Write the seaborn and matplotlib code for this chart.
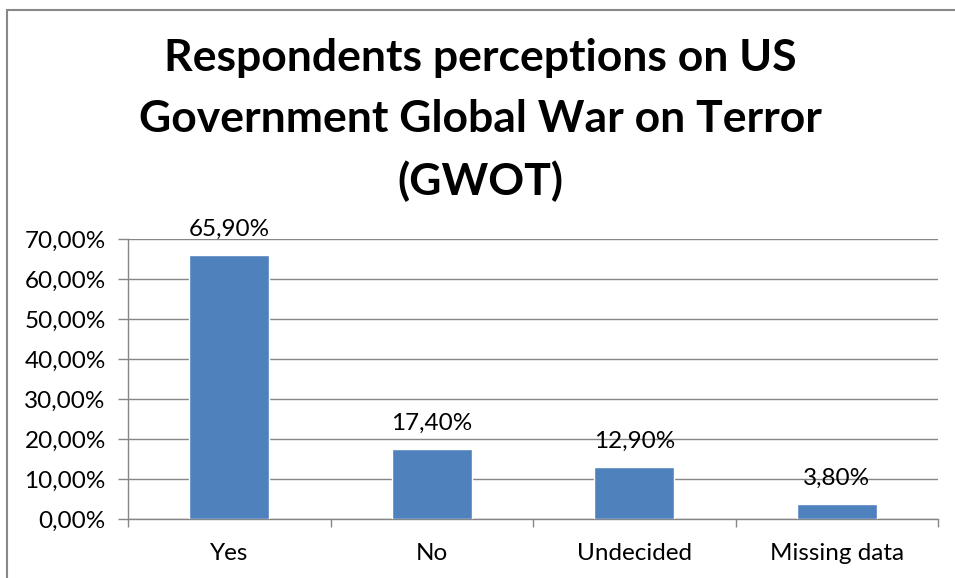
import matplotlib
matplotlib.use("Agg")
import matplotlib.pyplot as plt
import seaborn as sns
import pandas as pd
import numpy as np
from matplotlib.lines import Line2D
from matplotlib.ticker import FixedLocator

categories = ["Yes", "No", "Undecided", "Missing data"]
values = [65.90, 17.40, 12.90, 3.80]
yticks = [0, 10, 20, 30, 40, 50, 60, 70]
ytick_labels = ["0,00%", "10,00%", "20,00%", "30,00%", "40,00%", "50,00%", "60,00%", "70,00%"]
title = "Respondents perceptions on US\nGovernment Global War on Terror\n(GWOT)"

sns.set_theme(style="white")
plt.rcParams['font.family'] = ['Lato', 'DejaVu Sans']

df = pd.DataFrame({"cat": categories, "val": values})

fig = plt.figure(figsize=(9.55, 5.78), dpi=100)
ax = fig.add_axes([128/955, 1-519/578, (938-128)/955, (519-239)/578])

sns.barplot(data=df, x="cat", y="val", color="#4F81BD", width=0.395, saturation=1, ax=ax, zorder=3)

fs = 17.5
ax.set_xlim(-0.5, 3.5)
ax.set_ylim(0, 70)
ax.set_yticks(yticks)
ax.set_yticklabels(ytick_labels, fontsize=fs, color="black")
ax.yaxis.grid(True, color="#868686", linewidth=1)
ax.set_axisbelow(True)
ax.tick_params(axis="y", length=7, width=1, color="#868686", direction="out", pad=9, left=True)
ax.tick_params(axis="x", which="major", length=0, pad=17, labelsize=fs, labelcolor="black")
ax.xaxis.set_minor_locator(FixedLocator([-0.5, 0.5, 1.5, 2.5, 3.5]))
ax.tick_params(axis="x", which="minor", length=6, width=1, color="#868686", direction="out", bottom=True)
ax.set_xlabel("")
ax.set_ylabel("")
for s in ["top", "right"]:
    ax.spines[s].set_visible(False)
for s in ["left", "bottom"]:
    ax.spines[s].set_color("#868686")
    ax.spines[s].set_linewidth(1)

for i, v in enumerate(values):
    ax.annotate(f"{v:.2f}%".replace(".", ","), (i, v), xytext=(0, 11), textcoords="offset points",
                ha="center", va="bottom", fontsize=fs, color="black")

fig.text(480/955, 1-120/578, title, ha="center", va="center", fontsize=32, fontweight="bold",
         linespacing=1.62, color="black")

fig.add_artist(Line2D([6.5/955, 1], [1-9.5/578, 1-9.5/578], color="#888888", linewidth=1.5, transform=fig.transFigure))
fig.add_artist(Line2D([6.5/955, 6.5/955], [0, 1-9.5/578], color="#888888", linewidth=1.5, transform=fig.transFigure))

fig.savefig("out.png", dpi=100)
